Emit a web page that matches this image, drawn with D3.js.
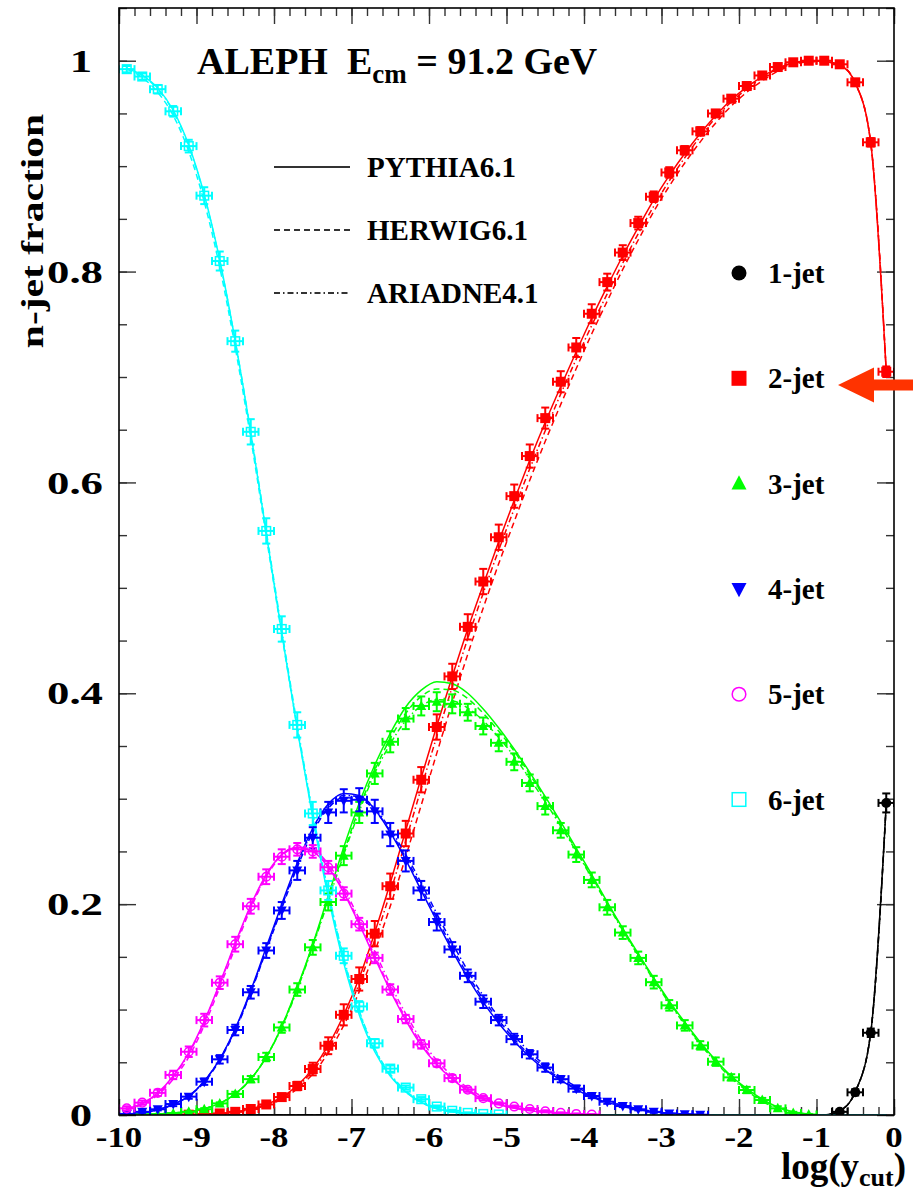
<!DOCTYPE html>
<html><head><meta charset="utf-8">
<script src="https://cdn.jsdelivr.net/npm/d3@7"></script>
<style>
html,body{margin:0;padding:0;background:#fff;}
svg{display:block;}
text{font-family:"Liberation Serif","Times New Roman",serif;font-weight:bold;fill:#000;white-space:pre;}
</style></head><body>
<svg id="chart" width="913" height="1194"></svg>
<script>
// ---------------- DATA ----------------
const logYcut = [-9.9,-9.7,-9.5,-9.3,-9.1,-8.9,-8.7,-8.5,-8.3,-8.1,
  -7.9,-7.7,-7.5,-7.3,-7.1,-6.9,-6.7,-6.5,-6.3,-6.1,
  -5.9,-5.7,-5.5,-5.3,-5.1,-4.9,-4.7,-4.5,-4.3,-4.1,
  -3.9,-3.7,-3.5,-3.3,-3.1,-2.9,-2.7,-2.5,-2.3,-2.1,
  -1.9,-1.7,-1.5,-1.3,-1.1,-0.9,-0.7,-0.5,-0.3,-0.1];
const binHalfWidth = 0.1;
const jetLabels = ["1-jet","2-jet","3-jet","4-jet","5-jet","6-jet"];
const modelLabels = ["PYTHIA6.1","HERWIG6.1","ARIADNE4.1"];
const xTickLabels = [-10,-9,-8,-7,-6,-5,-4,-3,-2,-1,0];
const yTickLabels = [0,0.2,0.4,0.6,0.8,1];

// measured fractions
const frac1 = [0,0,0,0,0,0,0,0,0,0, 0,0,0,0,0,0,0,0,0,0, 0,0,0,0,0,0,0,0,0,0,
  0,0,0,0,0,0,0,0,0,0, 0,0,0,0,0,0,0.003,0.0215,0.078,0.296];
const frac2 = [0,0,0,0,0.0003,0.0008,0.0015,0.003,0.0057,0.010,
  0.017,0.0275,0.0436,0.0657,0.095,0.129,0.172,0.217,0.267,0.318,
  0.368,0.416,0.463,0.506,0.548,0.587,0.625,0.661,0.6955,0.728,
  0.760,0.790,0.818,0.846,0.871,0.894,0.915,0.933,0.950,0.964,
  0.976,0.986,0.994,0.9985,1.0,1.0,0.9966,0.9795,0.9226,0.705];
const frac3 = [0,0.0005,0.0008,0.0015,0.003,0.0055,0.011,0.020,0.034,0.055,
  0.083,0.119,0.159,0.202,0.246,0.287,0.324,0.354,0.376,0.388,
  0.392,0.390,0.382,0.369,0.353,0.335,0.315,0.293,0.270,0.247,
  0.223,0.197,0.173,0.149,0.126,0.104,0.085,0.066,0.0506,0.0357,
  0.0237,0.0142,0.0063,0.002,0.0005,0,0,0,0,0];
const frac4 = [0.001,0.003,0.0054,0.0104,0.0174,0.0316,0.0528,0.0806,0.1164,0.156,
  0.194,0.232,0.263,0.287,0.298,0.299,0.288,0.266,0.241,0.213,
  0.183,0.157,0.132,0.1075,0.090,0.072,0.0576,0.045,0.034,0.025,
  0.018,0.0126,0.0085,0.0054,0.003,0.0015,0.0008,0.0003,0,0,
  0,0,0,0,0,0,0,0,0,0];
const frac5 = [0.0063,0.0117,0.021,0.038,0.060,0.090,0.1255,0.162,0.198,0.226,
  0.245,0.252,0.250,0.235,0.210,0.181,0.149,0.119,0.091,0.067,
  0.049,0.035,0.024,0.016,0.011,0.008,0.0057,0.0035,0.002,0.001,
  0.0005,0,0,0,0,0,0,0,0,0, 0,0,0,0,0,0,0,0,0,0];
const frac6 = [0.992,0.985,0.973,0.952,0.919,0.872,0.810,0.734,0.648,0.554,
  0.461,0.370,0.286,0.213,0.151,0.103,0.068,0.044,0.026,0.015,
  0.008,0.004,0.002,0.001,0.0005,0,0,0,0,0,
  0,0,0,0,0,0,0,0,0,0, 0,0,0,0,0,0,0,0,0,0];

// vertical errors
const err1 = [0,0,0,0,0,0,0,0,0,0, 0,0,0,0,0,0,0,0,0,0, 0,0,0,0,0,0,0,0,0,0,
  0,0,0,0,0,0,0,0,0,0, 0,0,0,0,0,0,0.001,0.003,0.004,0.009];
const err2 = [0,0,0,0,0.0003,0.0005,0.001,0.001,0.002,0.002,
  0.003,0.004,0.006,0.008,0.010,0.011,0.012,0.012,0.012,0.012,
  0.012,0.012,0.012,0.012,0.012,0.011,0.011,0.010,0.010,0.009,
  0.009,0.008,0.007,0.006,0.005,0.005,0.004,0.004,0.003,0.003,
  0.002,0.002,0.002,0.002,0.002,0.002,0.002,0.003,0.004,0.005];
const err3 = [0,0,0,0,0.0005,0.001,0.001,0.002,0.003,0.004,
  0.005,0.006,0.007,0.008,0.009,0.010,0.010,0.010,0.010,0.009,
  0.009,0.009,0.008,0.008,0.008,0.008,0.008,0.008,0.007,0.007,
  0.007,0.007,0.006,0.006,0.006,0.005,0.005,0.004,0.004,0.003,
  0.003,0.002,0.002,0.001,0.0005,0,0,0,0,0];
const err4 = [0.0005,0.001,0.001,0.002,0.002,0.003,0.004,0.005,0.006,0.007,
  0.008,0.009,0.010,0.010,0.011,0.011,0.011,0.011,0.010,0.009,
  0.008,0.007,0.006,0.006,0.005,0.005,0.004,0.004,0.003,0.003,
  0.002,0.002,0.001,0.001,0.001,0.0005,0.0005,0.0003,0,0,
  0,0,0,0,0,0,0,0,0,0];
const err5 = [0.002,0.002,0.003,0.004,0.005,0.006,0.006,0.007,0.007,0.007,
  0.007,0.006,0.006,0.006,0.006,0.006,0.005,0.005,0.004,0.004,
  0.003,0.003,0.002,0.002,0.001,0.001,0.001,0.001,0.0005,0.0005,
  0.0003,0,0,0,0,0,0,0,0,0, 0,0,0,0,0,0,0,0,0,0];
const err6 = [0.003,0.003,0.004,0.005,0.006,0.008,0.009,0.010,0.012,0.012,
  0.012,0.012,0.011,0.009,0.007,0.005,0.004,0.003,0.002,0.002,
  0.001,0.001,0.0005,0.0005,0.0003,0,0,0,0,0,
  0,0,0,0,0,0,0,0,0,0, 0,0,0,0,0,0,0,0,0,0];

// Monte Carlo predictions (PYTHIA6.1, HERWIG6.1, ARIADNE4.1)
const pythia1 = [0,0,0,0,0,0,0,0,0,0, 0,0,0,0,0,0,0,0,0,0, 0,0,0,0,0,0,0,0,0,0,
  0,0,0,0,0,0,0,0,0,0, 0,0,0,0,0,0,0.004,0.022,0.078,0.295];
const herwig1 = [0,0,0,0,0,0,0,0,0,0, 0,0,0,0,0,0,0,0,0,0, 0,0,0,0,0,0,0,0,0,0,
  0,0,0,0,0,0,0,0,0,0, 0,0,0,0,0,0,0.004,0.022,0.079,0.296];
const ariadne1 = [0,0,0,0,0,0,0,0,0,0, 0,0,0,0,0,0,0,0,0,0, 0,0,0,0,0,0,0,0,0,0,
  0,0,0,0,0,0,0,0,0,0, 0,0,0,0,0,0,0.004,0.022,0.078,0.295];

const pythia2 = [0,0,0,0,0.0003,0.0007,0.0015,0.003,0.006,0.010,
  0.017,0.028,0.044,0.066,0.095,0.130,0.173,0.220,0.270,0.320,
  0.369,0.416,0.461,0.503,0.544,0.583,0.621,0.657,0.691,0.724,
  0.756,0.786,0.815,0.842,0.868,0.891,0.912,0.931,0.948,0.963,
  0.975,0.985,0.993,0.998,1.0,0.999,0.996,0.979,0.922,0.705];
const herwig2 = [0,0,0,0,0.0003,0.0006,0.0013,0.0026,0.005,0.009,
  0.015,0.025,0.039,0.059,0.085,0.117,0.155,0.198,0.245,0.294,
  0.343,0.391,0.437,0.481,0.523,0.563,0.602,0.639,0.674,0.708,
  0.741,0.772,0.802,0.830,0.857,0.881,0.903,0.923,0.941,0.957,
  0.970,0.981,0.990,0.996,0.999,0.999,0.996,0.979,0.922,0.705];
const ariadne2 = [0,0,0,0,0.0003,0.0007,0.0014,0.0028,0.0055,0.0095,
  0.016,0.027,0.042,0.063,0.091,0.125,0.166,0.211,0.260,0.310,
  0.359,0.406,0.452,0.495,0.536,0.575,0.613,0.649,0.684,0.717,
  0.749,0.779,0.808,0.836,0.862,0.886,0.908,0.928,0.946,0.961,
  0.973,0.984,0.992,0.997,1.0,0.999,0.996,0.979,0.922,0.705];

const pythia3 = [0,0.0005,0.001,0.002,0.003,0.006,0.011,0.020,0.034,0.055,
  0.084,0.121,0.162,0.208,0.254,0.296,0.332,0.362,0.387,0.403,
  0.411,0.409,0.400,0.385,0.367,0.347,0.325,0.302,0.278,0.253,
  0.228,0.202,0.177,0.153,0.130,0.108,0.088,0.069,0.052,0.037,
  0.025,0.015,0.0075,0.003,0.0008,0,0,0,0,0];
const herwig3 = [0,0.0005,0.001,0.002,0.003,0.006,0.011,0.020,0.034,0.055,
  0.084,0.120,0.161,0.205,0.249,0.291,0.327,0.357,0.381,0.397,
  0.404,0.403,0.395,0.381,0.364,0.345,0.323,0.300,0.276,0.251,
  0.226,0.201,0.176,0.152,0.129,0.107,0.087,0.068,0.051,0.036,
  0.024,0.014,0.007,0.0028,0.0008,0,0,0,0,0];
const ariadne3 = [0,0.0005,0.001,0.002,0.003,0.006,0.011,0.020,0.034,0.055,
  0.083,0.119,0.160,0.203,0.247,0.288,0.324,0.352,0.374,0.388,
  0.394,0.393,0.386,0.374,0.358,0.340,0.319,0.297,0.274,0.250,
  0.225,0.200,0.175,0.151,0.128,0.106,0.086,0.067,0.050,0.035,
  0.023,0.013,0.006,0.002,0.0005,0,0,0,0,0];

const pythia4 = [0.001,0.002,0.005,0.010,0.018,0.032,0.053,0.082,0.118,0.159,
  0.200,0.239,0.272,0.295,0.305,0.303,0.290,0.268,0.242,0.213,
  0.184,0.156,0.130,0.107,0.087,0.070,0.055,0.043,0.033,0.024,
  0.017,0.012,0.008,0.005,0.003,0.0015,0.0007,0.0003,0,0,
  0,0,0,0,0,0,0,0,0,0];
const herwig4 = [0.001,0.002,0.005,0.010,0.018,0.031,0.052,0.080,0.116,0.156,
  0.196,0.235,0.268,0.291,0.301,0.300,0.289,0.269,0.244,0.216,
  0.187,0.159,0.133,0.110,0.090,0.072,0.057,0.045,0.034,0.025,
  0.018,0.013,0.009,0.0055,0.0032,0.0017,0.0008,0.0003,0,0,
  0,0,0,0,0,0,0,0,0,0];
const ariadne4 = [0.001,0.002,0.005,0.010,0.018,0.032,0.053,0.081,0.117,0.157,
  0.198,0.237,0.270,0.293,0.303,0.302,0.291,0.271,0.247,0.220,
  0.191,0.163,0.137,0.113,0.093,0.075,0.060,0.047,0.036,0.027,
  0.019,0.014,0.009,0.006,0.0035,0.0018,0.0008,0.0003,0,0,
  0,0,0,0,0,0,0,0,0,0];

const pythia5 = [0.006,0.011,0.021,0.037,0.059,0.089,0.125,0.163,0.199,0.228,
  0.247,0.254,0.250,0.235,0.211,0.181,0.149,0.118,0.090,0.066,
  0.048,0.034,0.023,0.015,0.010,0.0065,0.004,0.0025,0.0015,0.0008,
  0.0004,0,0,0,0,0,0,0,0,0, 0,0,0,0,0,0,0,0,0,0];
const herwig5 = [0.005,0.010,0.019,0.034,0.055,0.085,0.121,0.159,0.196,0.226,
  0.246,0.253,0.250,0.236,0.212,0.183,0.151,0.120,0.092,0.068,
  0.049,0.035,0.024,0.016,0.011,0.007,0.0045,0.003,0.0017,0.0009,
  0.0004,0,0,0,0,0,0,0,0,0, 0,0,0,0,0,0,0,0,0,0];
const ariadne5 = [0.006,0.011,0.020,0.036,0.058,0.088,0.124,0.162,0.198,0.227,
  0.247,0.254,0.252,0.238,0.215,0.186,0.155,0.124,0.096,0.071,
  0.052,0.037,0.026,0.017,0.0115,0.0075,0.005,0.003,0.0018,0.001,
  0.0005,0,0,0,0,0,0,0,0,0, 0,0,0,0,0,0,0,0,0,0];

const pythia6 = [0.993,0.986,0.974,0.953,0.920,0.873,0.811,0.734,0.647,0.552,
  0.457,0.366,0.282,0.207,0.144,0.095,0.060,0.037,0.022,0.012,
  0.006,0.003,0.0015,0.0007,0.0003,0,0,0,0,0,
  0,0,0,0,0,0,0,0,0,0, 0,0,0,0,0,0,0,0,0,0];
const herwig6 = [0.992,0.984,0.970,0.948,0.914,0.866,0.804,0.728,0.642,0.549,
  0.456,0.367,0.285,0.211,0.148,0.098,0.062,0.038,0.022,0.012,
  0.006,0.003,0.0015,0.0007,0.0003,0,0,0,0,0,
  0,0,0,0,0,0,0,0,0,0, 0,0,0,0,0,0,0,0,0,0];
const ariadne6 = [0.993,0.986,0.973,0.952,0.919,0.872,0.810,0.734,0.648,0.554,
  0.460,0.370,0.287,0.212,0.149,0.099,0.063,0.039,0.023,0.013,
  0.007,0.0035,0.0017,0.0008,0.0003,0,0,0,0,0,
  0,0,0,0,0,0,0,0,0,0, 0,0,0,0,0,0,0,0,0,0];

// ---------------- STYLE ----------------
const jetColors = ["#000000","#ff0000","#00ff00","#0000ff","#ff00ff","#00ffff"];
const jetShapes = ["circle","square","triangle","triangleDown","openCircle","openSquare"];
const modelDash = [null,"6,4","6,3,1.5,3"];

const series = [
  {frac:frac1, err:err1, mc:[pythia1,herwig1,ariadne1]},
  {frac:frac2, err:err2, mc:[pythia2,herwig2,ariadne2]},
  {frac:frac3, err:err3, mc:[pythia3,herwig3,ariadne3]},
  {frac:frac4, err:err4, mc:[pythia4,herwig4,ariadne4]},
  {frac:frac5, err:err5, mc:[pythia5,herwig5,ariadne5]},
  {frac:frac6, err:err6, mc:[pythia6,herwig6,ariadne6]}
];

// ---------------- CHART ----------------
const svg = d3.select("#chart");
const L = 119, R = 894, T = 8, B = 1115;
const x = d3.scaleLinear().domain([-10,0]).range([L,R]);
const y = d3.scaleLinear().domain([0,1.05]).range([B,T]);

svg.append("defs").append("clipPath").attr("id","plotclip")
  .append("rect").attr("x",L).attr("y",T).attr("width",R-L).attr("height",B-T);

// ticks
const minorX = d3.range(-10,0.001,0.2).map(v=>+v.toFixed(2));
const minorY = d3.range(0,1.0501,0.05).map(v=>+v.toFixed(2));
function tickAxis(axis, tr){
  const g = svg.append("g").attr("transform",tr).call(axis);
  g.select(".domain").remove();
  g.selectAll("line").attr("stroke","#333").attr("stroke-width",1.4);
  return g;
}
tickAxis(d3.axisBottom(x).tickValues(minorX).tickSize(-8).tickFormat(""),`translate(0,${B})`);
tickAxis(d3.axisBottom(x).tickValues(xTickLabels).tickSize(-16).tickFormat(""),`translate(0,${B})`);
tickAxis(d3.axisTop(x).tickValues(minorX).tickSize(-8).tickFormat(""),`translate(0,${T})`);
tickAxis(d3.axisTop(x).tickValues(xTickLabels).tickSize(-16).tickFormat(""),`translate(0,${T})`);
tickAxis(d3.axisLeft(y).tickValues(minorY).tickSize(-8).tickFormat(""),`translate(${L},0)`);
tickAxis(d3.axisLeft(y).tickValues(yTickLabels).tickSize(-17).tickFormat(""),`translate(${L},0)`);
tickAxis(d3.axisRight(y).tickValues(minorY).tickSize(-8).tickFormat(""),`translate(${R},0)`);
tickAxis(d3.axisRight(y).tickValues(yTickLabels).tickSize(-17).tickFormat(""),`translate(${R},0)`);

// tick labels (wide bold serif, as in the original)
svg.append("g").selectAll("g").data(xTickLabels).join("g")
  .attr("transform",d=>`translate(${x(d)},${B+32}) scale(1.2,1)`)
  .append("text").attr("text-anchor","middle").attr("font-size",29).text(d=>String(d));
svg.append("g").selectAll("g").data(yTickLabels).join("g")
  .attr("transform",d=>`translate(${Number.isInteger(d)?81:75},${y(d)}) scale(1.4,1)`)
  .append("text").attr("text-anchor","middle").attr("dy","0.35em").attr("font-size",32).text(d=>String(d));

// curves and points
const plot = svg.append("g").attr("clip-path","url(#plotclip)");
const line = d3.line().x((d,i)=>x(logYcut[i])).y(d=>y(d)).curve(d3.curveMonotoneX);

function drawMarker(g, shape, cx, cy, color, s){
  const h = s/2;
  if(shape==="circle") g.append("circle").attr("cx",cx).attr("cy",cy).attr("r",h).attr("fill",color);
  else if(shape==="square") g.append("rect").attr("x",cx-h).attr("y",cy-h).attr("width",s).attr("height",s).attr("fill",color);
  else if(shape==="triangle") g.append("path").attr("d",`M${cx},${cy-h*1.1}L${cx+h},${cy+h*0.8}L${cx-h},${cy+h*0.8}Z`).attr("fill",color);
  else if(shape==="triangleDown") g.append("path").attr("d",`M${cx},${cy+h*1.1}L${cx+h},${cy-h*0.8}L${cx-h},${cy-h*0.8}Z`).attr("fill",color);
  else if(shape==="openCircle") g.append("circle").attr("cx",cx).attr("cy",cy).attr("r",h-0.7).attr("fill","none").attr("stroke",color).attr("stroke-width",1.5);
  else if(shape==="openSquare") g.append("rect").attr("x",cx-h+0.7).attr("y",cy-h+0.7).attr("width",s-1.4).attr("height",s-1.4).attr("fill","none").attr("stroke",color).attr("stroke-width",1.5);
}

series.forEach((s,k)=>{
  const col = jetColors[k];
  s.mc.forEach((vals,m)=>{
    const p = plot.append("path").attr("d",line(vals)).attr("fill","none")
      .attr("stroke",col).attr("stroke-width",1.5);
    if(modelDash[m]) p.attr("stroke-dasharray",modelDash[m]);
  });
});
series.forEach((s,k)=>{
  const col = jetColors[k];
  const g = plot.append("g");
  s.frac.forEach((v,i)=>{
    if(v<=0) return;
    const cx = x(logYcut[i]), cy = y(v);
    const x0 = x(logYcut[i]-binHalfWidth), x1 = x(logYcut[i]+binHalfWidth);
    const e = s.err[i];
    const y0 = y(v-e), y1 = y(v+e);
    const eb = g.append("g").attr("stroke",col).attr("stroke-width",2).attr("fill","none");
    eb.append("line").attr("x1",x0).attr("x2",x1).attr("y1",cy).attr("y2",cy);
    eb.append("line").attr("x1",x0).attr("x2",x0).attr("y1",cy-4).attr("y2",cy+4);
    eb.append("line").attr("x1",x1).attr("x2",x1).attr("y1",cy-4).attr("y2",cy+4);
    if(e>0){
      eb.append("line").attr("x1",cx).attr("x2",cx).attr("y1",y0).attr("y2",y1);
      eb.append("line").attr("x1",cx-4).attr("x2",cx+4).attr("y1",y0).attr("y2",y0);
      eb.append("line").attr("x1",cx-4).attr("x2",cx+4).attr("y1",y1).attr("y2",y1);
    }
    drawMarker(g, jetShapes[k], cx, cy, col, 10);
  });
});

// frame
svg.append("rect").attr("x",L).attr("y",T).attr("width",R-L).attr("height",B-T)
  .attr("fill","none").attr("stroke","#000").attr("stroke-width",1.6);

// title
const title = svg.append("text").attr("x",197).attr("y",74).attr("font-size",38);
title.append("tspan").text("ALEPH  E");
title.append("tspan").attr("font-size",27).attr("dy",9).text("cm");
title.append("tspan").attr("dy",-9).text(" = 91.2 GeV");

// model legend
modelLabels.forEach((t,m)=>{
  const yy = 167 + m*63;
  const ln = svg.append("line").attr("x1",274).attr("x2",350).attr("y1",yy).attr("y2",yy)
    .attr("stroke","#333").attr("stroke-width",1.8);
  if(modelDash[m]) ln.attr("stroke-dasharray",modelDash[m]);
  svg.append("text").attr("x",367).attr("y",yy+10).attr("font-size",29).text(t);
});

// jet legend
jetLabels.forEach((t,k)=>{
  const yy = 273 + k*105.3;
  drawMarker(svg, jetShapes[k], 739, yy, jetColors[k], 15);
  svg.append("text").attr("x",768).attr("y",yy+10).attr("font-size",29).text(t);
});

// arrow
svg.append("path").attr("d","M838,385L874,367.5L874,379.5L913,379.5L913,390.5L874,390.5L874,402.5Z")
  .attr("fill","#ff3300");

// axis titles
const xt = svg.append("text").attr("x",906).attr("y",1179).attr("text-anchor","end").attr("font-size",37);
xt.append("tspan").text("log(y");
xt.append("tspan").attr("font-size",26).attr("dy",7).text("cut");
xt.append("tspan").attr("dy",-7).text(")");
svg.append("g").attr("transform","translate(43,231) rotate(-90) scale(1.3,1)")
  .append("text").attr("text-anchor","middle").attr("font-size",32).text("n-jet fraction");
</script>
</body></html>
